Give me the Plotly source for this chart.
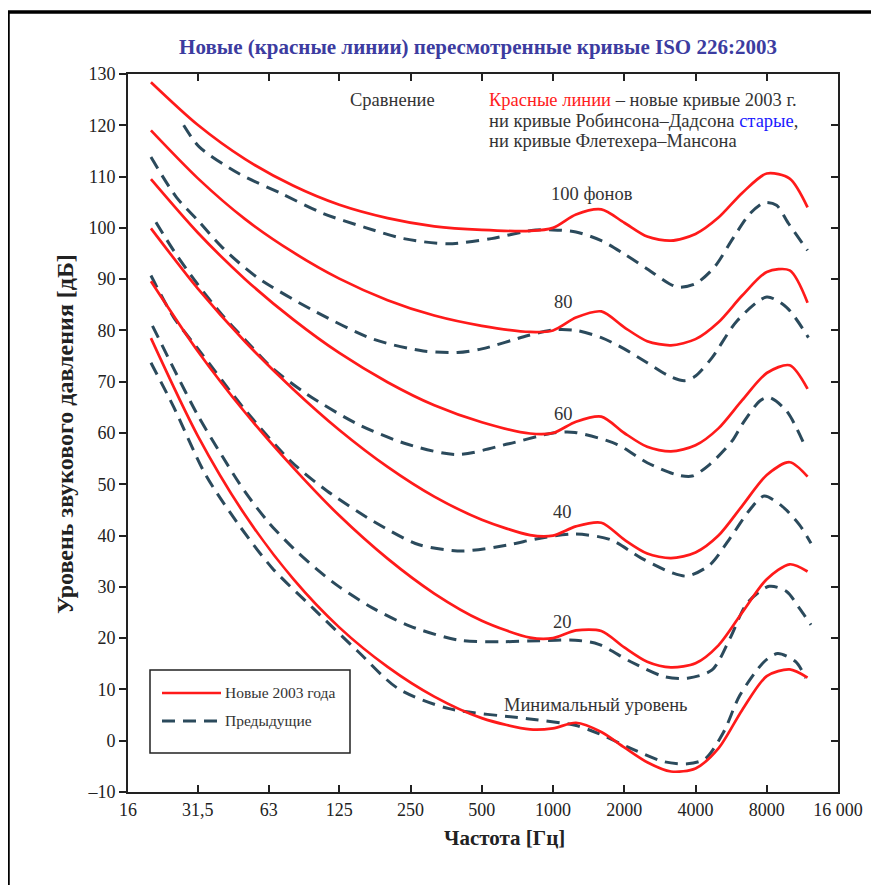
import math
import plotly.graph_objects as go

# ---- data -------------------------------------------------------------
# new ISO 226:2003 contours (red)
F_NEW = [20, 31.5, 50, 80, 125, 200, 315, 500, 800, 1000, 1250, 1600,
         2000, 2500, 3150, 4000, 5000, 6300, 8000, 10000, 11900]
NEW_MIN = [78.5, 59.5, 44.0, 31.5, 22.1, 14.4, 8.6, 4.4, 2.2, 2.4, 3.5, 1.7,
           -1.3, -4.2, -6.0, -5.4, -1.5, 6.0, 12.6, 13.9, 12.3]
NEW_20 = [89.6, 76.0, 64.0, 53.2, 43.9, 35.5, 28.7, 23.4, 20.1, 20.0, 21.5, 21.4,
          18.2, 15.4, 14.3, 15.1, 18.6, 25.0, 31.5, 34.4, 33.0]
NEW_40 = [99.9, 88.2, 77.8, 68.5, 60.6, 53.4, 47.6, 43.1, 40.1, 40.0, 41.8, 42.5,
          39.2, 36.5, 35.6, 36.7, 40.0, 45.8, 51.8, 54.3, 51.5]
NEW_60 = [109.5, 99.1, 90.0, 82.1, 75.6, 69.9, 65.4, 62.1, 59.9, 60.0, 62.2, 63.2,
          60.0, 57.3, 56.4, 57.6, 60.9, 66.4, 71.7, 73.2, 68.6]
NEW_80 = [119.0, 109.7, 101.7, 95.2, 90.1, 85.9, 82.9, 80.9, 79.7, 80.0, 82.5, 83.7,
          80.6, 77.9, 77.1, 78.3, 81.6, 86.8, 91.4, 91.7, 85.4]
NEW_100 = [128.4, 120.1, 113.4, 108.2, 104.5, 101.9, 100.3, 99.6, 99.4, 100.0, 102.6, 103.6,
           101.0, 98.3, 97.5, 98.8, 102.0, 106.8, 110.6, 109.6, 104.0]

# previous contours (dashed)
F_OLD_100 = [27.5, 32, 47, 71, 107, 160, 234, 360, 549, 810, 1000, 1250, 1600, 2000,
             2500, 3100, 3400, 4000, 4800, 5800, 6800, 7800, 8800, 9900, 11900]
OLD_100 = [120.0, 115.8, 110.6, 106.7, 102.8, 100.1, 97.9, 96.9, 97.9, 99.5, 99.6, 99.2,
           97.5, 94.9, 92.0, 89.1, 88.4, 89.1, 92.3, 98.2, 102.8, 104.9, 104.4, 100.8, 95.6]

F_OLD_80 = [20, 25.6, 31.5, 40, 56, 97, 174, 283, 394, 500, 784, 1000, 1250, 1600,
            2000, 2500, 3100, 3600, 4000, 4700, 6000, 8000, 9700, 12000]
OLD_80 = [113.8, 106.0, 101.5, 96.2, 90.4, 83.9, 78.3, 76.0, 75.7, 76.4, 79.0, 80.1, 80.0, 78.6,
          76.4, 73.7, 71.1, 70.2, 71.1, 74.7, 81.9, 86.5, 84.5, 78.6]

F_OLD_60 = [21, 25, 31.5, 40, 50, 65, 91, 150, 243, 394, 650, 1000, 1240, 1860,
            2500, 3300, 3870, 4600, 5700, 6300, 7500, 8200, 9700, 11700]
OLD_60 = [101.1, 95.5, 89.0, 83.0, 78.2, 72.7, 67.6, 61.7, 57.8, 55.8, 57.9, 60.0, 60.1, 57.8,
          54.2, 51.9, 51.6, 53.9, 58.4, 61.7, 66.3, 66.9, 64.3, 57.1]

F_OLD_40 = [20, 25, 31.5, 50, 78, 111, 174, 272, 414, 650, 860, 1240, 1750, 2360,
            3200, 3700, 4600, 5600, 6800, 7800, 9300, 11000, 12300]
OLD_40 = [90.7, 82.5, 76.5, 64.5, 54.5, 48.7, 42.8, 38.2, 37.0, 38.2, 39.4, 40.3, 39.2, 35.6,
          32.7, 32.1, 34.3, 39.5, 45.1, 47.7, 45.7, 42.1, 38.5]

F_OLD_20 = [20.3, 25, 31.5, 40, 50, 63, 80, 100, 125, 174, 250, 400, 600, 880, 1240, 1560,
            2130, 2950, 3700, 4700, 5600, 6600, 8200, 9700, 11000, 12300]
OLD_20 = [80.9, 72.5, 63.5, 55.5, 48.5, 42.5, 37.5, 33.5, 30.0, 25.8, 22.3, 19.6, 19.3, 19.5,
          19.6, 18.8, 15.4, 12.5, 12.2, 13.8, 20.0, 26.8, 30.1, 29.1, 25.8, 22.6]

F_OLD_MIN = [20, 25, 34, 47, 65, 97, 150, 221, 360, 780, 1240, 1560, 2130, 2950, 3700,
             4400, 5260, 6150, 7800, 8900, 10600, 11700]
OLD_MIN = [73.7, 65.0, 51.9, 42.1, 33.7, 25.8, 17.4, 10.2, 6.3, 4.3, 3.0, 1.4, -1.5, -4.1, -4.5,
           -3.5, 1.7, 8.8, 15.4, 17.0, 15.4, 12.2]

X_TICKS = [16, 31.5, 63, 125, 250, 500, 1000, 2000, 4000, 8000, 16000]
X_TICK_TEXT = ["16", "31,5", "63", "125", "250", "500", "1000", "2000", "4000", "8000", "16 000"]
Y_TICKS = list(range(-10, 131, 10))
Y_TICK_TEXT = ["–10"] + [str(v) for v in Y_TICKS[1:]]

# (label, freq, level)
CURVE_LABELS = [
    ("100 фонов", 1455, 106.7),
    ("80", 1107, 85.6),
    ("60", 1107, 63.7),
    ("40", 1100, 44.5),
    ("20", 1095, 23.2),
    ("Минимальный уровень", 1512, 7.0),
]

RED = "#ff1a1a"
OLD = "#2b4a5c"
SERIF = "Liberation Serif, Times New Roman, serif"

fig = go.Figure()

for f, y in [(F_OLD_100, OLD_100), (F_OLD_80, OLD_80), (F_OLD_60, OLD_60),
             (F_OLD_40, OLD_40), (F_OLD_20, OLD_20), (F_OLD_MIN, OLD_MIN)]:
    fig.add_trace(go.Scatter(
        x=f, y=y, mode="lines", name="Предыдущие", showlegend=False,
        line=dict(color=OLD, width=3, dash="13px,8px", shape="spline", smoothing=0.8),
    ))

for y in [NEW_100, NEW_80, NEW_60, NEW_40, NEW_20, NEW_MIN]:
    fig.add_trace(go.Scatter(
        x=F_NEW, y=y, mode="lines", name="Новые 2003 года", showlegend=False,
        line=dict(color=RED, width=2.7, shape="spline", smoothing=0.8),
    ))

# right-hand axis ticks only
fig.add_trace(go.Scatter(x=[1000], y=[None], yaxis="y2", showlegend=False,
                         hoverinfo="skip", mode="lines"))


# page pixel -> paper coordinate (plot area spans 128..838 x 74..792)
def px_x(p):
    return (p - 128) / 710


def px_y(p):
    return (792 - p) / 718


TXT = dict(family=SERIF, size=18.5, color="#333333")


def note(text, x, y, font=TXT, xanchor="center", **kw):
    return dict(text=text, x=x, y=y, xref="paper", yref="paper", xanchor=xanchor,
                yanchor="middle", showarrow=False, font=font, **kw)


annotations = []
for text, f, lv in CURVE_LABELS:
    annotations.append(dict(text=text, x=math.log10(f), y=lv, xref="x", yref="y",
                            xanchor="center", yanchor="middle", showarrow=False, font=TXT))

note_lines = [
    ("<span style='color:#ff2020'>Красные линии</span> – новые кривые 2003 г.", 100),
    ("ни кривые Робинсона–Дадсона <span style='color:#1a1aff'>старые</span>,", 120.5),
    ("ни кривые Флетехера–Мансона", 141),
]
for text, py in note_lines:
    annotations.append(note(text, px_x(487), px_y(py), xanchor="left"))

annotations += [
    note("Сравнение", px_x(392), px_y(100)),
    note("<b>Частота [Гц]</b>", px_x(504), px_y(838),
         font=dict(family=SERIF, size=21, color="#222222")),
    note("<b>Уровень звукового давления [дБ]</b>", px_x(65), px_y(434),
         font=dict(family=SERIF, size=24, color="#222222"), textangle=-90),
    note("Новые 2003 года", px_x(223), px_y(692), xanchor="left",
         font=dict(family=SERIF, size=15.5, color="#333333")),
    note("Предыдущие", px_x(223), px_y(720), xanchor="left",
         font=dict(family=SERIF, size=15.5, color="#333333")),
]

shapes = [
    # outer frame
    dict(type="rect", xref="paper", yref="paper", x0=px_x(8), x1=px_x(1000),
         y0=px_y(1000), y1=px_y(12), line=dict(color="black", width=3.5)),
    # legend box
    dict(type="rect", xref="paper", yref="paper", x0=px_x(150), x1=px_x(350),
         y0=px_y(753), y1=px_y(670), line=dict(color="#222222", width=1.5),
         fillcolor="white"),
    dict(type="line", xref="paper", yref="paper", x0=px_x(162), x1=px_x(221),
         y0=px_y(693), y1=px_y(693), line=dict(color=RED, width=2.7)),
    dict(type="line", xref="paper", yref="paper", x0=px_x(162), x1=px_x(221),
         y0=px_y(721), y1=px_y(721), line=dict(color=OLD, width=3, dash="13px,8px")),
]

# page body has an 8 px margin, so the figure origin sits at (8, 8)
fig.update_layout(
    width=879, height=885,
    paper_bgcolor="white", plot_bgcolor="white",
    margin=dict(l=120, r=49, t=66, b=101),
    showlegend=False,
    title=dict(text="<b>Новые (красные линии) пересмотренные кривые ISO 226:2003</b>",
               x=470 / 879, xanchor="center", y=1 - 39 / 885, yanchor="middle",
               font=dict(family=SERIF, size=21, color="#3c3ca0")),
    font=dict(family=SERIF, size=18, color="#222222"),
    xaxis=dict(
        type="log", range=[math.log10(16), math.log10(16000)],
        tickvals=X_TICKS, ticktext=X_TICK_TEXT,
        ticks="inside", ticklen=7, tickwidth=1.5, tickcolor="#222222",
        showline=True, linecolor="#222222", linewidth=2, mirror="ticks",
        showgrid=False, zeroline=False,
        tickfont=dict(family=SERIF, size=18, color="#222222"),
    ),
    yaxis=dict(
        range=[-10, 130], tickvals=Y_TICKS, ticktext=Y_TICK_TEXT,
        ticks="outside", ticklen=7, tickwidth=1.5, tickcolor="#222222",
        showline=True, linecolor="#222222", linewidth=2, mirror=True,
        showgrid=False, zeroline=False,
        tickfont=dict(family=SERIF, size=18, color="#222222"),
    ),
    yaxis2=dict(
        range=[-10, 130], tickvals=Y_TICKS, overlaying="y", side="right",
        ticks="inside", ticklen=7, tickwidth=1.5, tickcolor="#222222",
        showticklabels=False, showgrid=False, zeroline=False, showline=False,
    ),
    annotations=annotations,
    shapes=shapes,
)

fig.write_html("out.html")
